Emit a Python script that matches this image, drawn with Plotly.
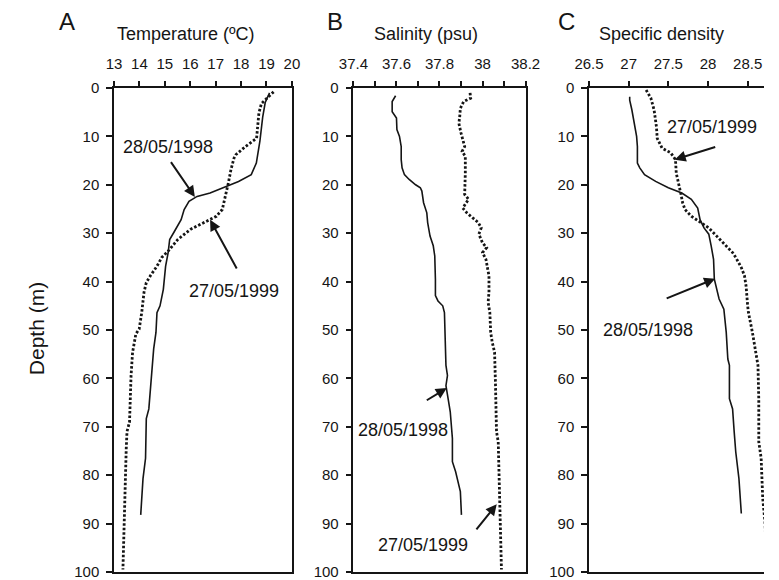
import plotly.graph_objects as go

# ---- Temperature profiles (°C) ----
temp_1998_depth = [1.0, 3.0, 6.0, 11.0, 15.5, 17.9, 19.3, 20.4, 21.7, 22.4, 23.4, 25.1, 27.2, 29.6,
                   31.3, 34.0, 36.8, 41.6, 45.0, 46.4, 50.5, 53.9, 59.4, 66.3, 68.3, 76.5, 80.7, 84.8, 88.2]
temp_1998 = [19.12, 18.95, 18.85, 18.74, 18.6, 18.4, 17.9, 17.41, 16.78, 16.27, 15.95, 15.76, 15.64, 15.38,
             15.19, 15.13, 15.03, 14.94, 14.81, 14.69, 14.65, 14.56, 14.47, 14.37, 14.27, 14.24, 14.14, 14.09, 14.05]

temp_1999_depth = [0.8, 3.2, 5.2, 8.6, 10.4, 12.1, 13.8, 14.5, 16.9, 19.6, 22.4, 25.1, 26.5, 27.8, 29.2,
                   31.3, 33.7, 35.0, 36.8, 38.8, 40.2, 42.2, 45.7, 46.4, 49.8, 50.8, 54.6, 59.4, 69.0,
                   71.0, 74.5, 84.8, 91.6, 99.5]
temp_1999 = [19.28, 18.8, 18.7, 18.65, 18.61, 18.17, 17.79, 17.72, 17.6, 17.5, 17.39, 17.26, 17.03, 16.52,
             16.01, 15.51, 15.13, 14.88, 14.69, 14.43, 14.27, 14.18, 14.11, 14.09, 13.99, 13.86, 13.73,
             13.67, 13.61, 13.51, 13.48, 13.42, 13.38, 13.35]

# ---- Salinity profiles (psu) ----
sal_1998_depth = [1.6, 2.8, 4.9, 6.2, 8.6, 10.0, 12.1, 14.8, 16.5, 17.9, 18.9, 20.0, 20.6, 21.3, 23.7,
                  25.8, 27.8, 30.6, 32.6, 34.7, 39.5, 42.9, 44.0, 45.0, 46.4, 57.3, 59.4, 61.5, 64.2,
                  66.9, 72.4, 77.2, 79.3, 81.3, 83.4, 88.2]
sal_1998 = [37.596, 37.58, 37.58, 37.6, 37.602, 37.614, 37.622, 37.622, 37.626, 37.637, 37.659, 37.689,
            37.711, 37.718, 37.726, 37.741, 37.745, 37.756, 37.771, 37.778, 37.781, 37.781, 37.793,
            37.815, 37.823, 37.83, 37.837, 37.83, 37.84, 37.85, 37.86, 37.86, 37.875, 37.886, 37.897, 37.902]

sal_1999_depth = [1.0, 2.1, 2.8, 4.2, 5.9, 7.3, 9.3, 11.0, 12.1, 13.1, 14.1, 17.6, 20.3, 22.0, 23.0, 24.8,
                  25.8, 26.8, 27.8, 28.9, 30.2, 32.0, 33.0, 34.0, 35.4, 37.4, 38.8, 42.2, 44.3, 46.4,
                  50.5, 52.5, 54.6, 60.8, 71.0, 73.1, 77.9, 83.4, 88.2, 99.5]
sal_1999 = [37.942, 37.945, 37.912, 37.897, 37.894, 37.89, 37.9, 37.912, 37.917, 37.905, 37.92, 37.92,
            37.92, 37.917, 37.935, 37.908, 37.927, 37.956, 37.98, 37.994, 37.983, 38.0, 38.019, 38.0,
            38.016, 38.024, 38.03, 38.03, 38.026, 38.034, 38.038, 38.045, 38.056, 38.06, 38.065,
            38.073, 38.076, 38.08, 38.083, 38.088]

# ---- Specific density profiles ----
dens_1998_depth = [1.8, 2.5, 4.5, 7.3, 10.0, 12.1, 15.5, 16.5, 17.9, 19.3, 20.6, 21.7, 23.0, 24.8, 27.2,
                   28.9, 30.2, 32.6, 35.4, 39.5, 40.9, 43.6, 45.7, 50.5, 56.0, 57.3, 64.2, 66.3, 71.0,
                   75.2, 80.7, 84.8, 87.9]
dens_1998 = [27.013, 27.013, 27.04, 27.07, 27.1, 27.11, 27.11, 27.14, 27.2, 27.34, 27.5, 27.67, 27.79,
             27.87, 27.9, 27.95, 28.01, 28.04, 28.07, 28.08, 28.1, 28.14, 28.2, 28.23, 28.25, 28.27,
             28.27, 28.31, 28.33, 28.35, 28.39, 28.41, 28.42]

dens_1999_depth = [0.4, 2.1, 4.5, 8.0, 10.4, 12.4, 13.4, 14.8, 17.6, 20.3, 22.0, 23.7, 25.1, 26.5, 27.8,
                   28.9, 30.6, 32.3, 34.0, 35.0, 37.1, 38.8, 40.9, 45.0, 46.4, 50.5, 54.6, 57.3, 64.2,
                   73.1, 76.5, 84.8, 90.0, 100.0]
dens_1999 = [27.22, 27.28, 27.32, 27.35, 27.36, 27.42, 27.53, 27.59, 27.6, 27.64, 27.66, 27.68, 27.71,
             27.79, 27.91, 28.01, 28.11, 28.21, 28.31, 28.35, 28.42, 28.46, 28.48, 28.5, 28.51, 28.56,
             28.6, 28.63, 28.64, 28.64, 28.67, 28.69, 28.72, 28.74]

# Panel headings and tick labels
panel_letters = ["A", "B", "C"]
panel_titles = ["Temperature (ºC)", "Salinity (psu)", "Specific density"]
temp_ticks = [13, 14, 15, 16, 17, 18, 19, 20]
sal_ticks = [37.4, 37.6, 37.8, 38, 38.2]
dens_ticks = [26.5, 27, 27.5, 28, 28.5]
depth_ticks = [0, 10, 20, 30, 40, 50, 60, 70, 80, 90, 100]

W, H = 779, 580
TOP, BOTTOM = 88, 574
PLOT_H = BOTTOM - TOP
FONT = "Liberation Sans, Arial, sans-serif"
INK = "#151515"

solid = dict(color=INK, width=1.6)
dotted = dict(color=INK, width=2.8, dash="2.5px,2px")

fig = go.Figure()
fig.add_trace(go.Scatter(x=temp_1998, y=temp_1998_depth, mode="lines", line=solid, xaxis="x", yaxis="y"))
fig.add_trace(go.Scatter(x=temp_1999, y=temp_1999_depth, mode="lines", line=dotted, xaxis="x", yaxis="y"))
fig.add_trace(go.Scatter(x=sal_1998, y=sal_1998_depth, mode="lines", line=solid, xaxis="x2", yaxis="y2"))
fig.add_trace(go.Scatter(x=sal_1999, y=sal_1999_depth, mode="lines", line=dotted, xaxis="x2", yaxis="y2"))
fig.add_trace(go.Scatter(x=dens_1998, y=dens_1998_depth, mode="lines", line=solid, xaxis="x3", yaxis="y3"))
fig.add_trace(go.Scatter(x=dens_1999, y=dens_1999_depth, mode="lines", line=dotted, xaxis="x3", yaxis="y3"))

# horizontal extents of the three panels (pixels)
domains_px = [(103, 288), (352, 531), (597, 779)]
domains = [(a / W, b / W) for a, b in domains_px]

tick_font = dict(family=FONT, size=15, color=INK)


def xaxis_cfg(dom, rng, ticks, anchor, minor_dtick=None):
    cfg = dict(domain=dom, range=rng, side="top", anchor=anchor, tickvals=ticks,
               ticktext=[f"{t:g}" for t in ticks], ticks="outside", ticklen=5, tickwidth=1.5,
               tickcolor=INK, showline=True, linecolor=INK, linewidth=1.5, mirror=True,
               showgrid=False, zeroline=False, tickfont=tick_font, fixedrange=True,
               ticklabelstandoff=6)
    if minor_dtick:
        cfg["minor"] = dict(dtick=minor_dtick, tick0=rng[0], ticks="outside", ticklen=5,
                            tickwidth=1.5, tickcolor=INK, showgrid=False)
    return cfg


def yaxis_cfg(anchor, mirror):
    return dict(domain=[0, 1], range=[100, 0], anchor=anchor, tickvals=depth_ticks, ticks="outside",
                ticklen=6, tickwidth=1.5, tickcolor=INK, showline=True, linecolor=INK, linewidth=1.5,
                mirror=mirror, showgrid=False, zeroline=False, tickfont=tick_font, fixedrange=True,
                ticklabeloverflow="allow", ticklabelstandoff=4)


fig.update_layout(
    width=W, height=H,
    margin=dict(l=0, r=0, t=TOP, b=H - BOTTOM),
    paper_bgcolor="white", plot_bgcolor="white",
    showlegend=False,
    font=dict(family=FONT, color=INK),
    xaxis=xaxis_cfg(domains[0], [13, 20], temp_ticks, "y"),
    xaxis2=xaxis_cfg(domains[1], [37.4, 38.2], sal_ticks, "y2", minor_dtick=0.1),
    xaxis3=xaxis_cfg(domains[2], [26.5, 28.706], dens_ticks, "y3"),
    yaxis=yaxis_cfg("x", True),
    yaxis2=yaxis_cfg("x2", True),
    yaxis3=yaxis_cfg("x3", False),
)


def paper_y(py):
    """Convert a pixel row to paper coordinates."""
    return 1 - (py - TOP) / PLOT_H


annotations = []

# panel letters and titles
letter_x = [54, 333, 574]
title_x = [178, 427, 672]
for i in range(3):
    annotations.append(dict(xref="paper", yref="paper", x=letter_x[i] / W, y=paper_y(21),
                            text=panel_letters[i], showarrow=False,
                            font=dict(size=24, family=FONT, color=INK),
                            xanchor="center", yanchor="middle"))
    annotations.append(dict(xref="paper", yref="paper", x=title_x[i] / W, y=paper_y(34),
                            text=panel_titles[i], showarrow=False,
                            font=dict(size=18, family=FONT, color=INK),
                            xanchor="center", yanchor="middle"))

# depth axis title
annotations.append(dict(xref="paper", yref="paper", x=22 / W, y=paper_y(330),
                        text="Depth (m)", textangle=-90, showarrow=False,
                        font=dict(size=21, family=FONT, color=INK), xanchor="center", yanchor="middle"))

label_font = dict(size=18, family=FONT, color=INK)


def date_label(xr, yr, x, y, text):
    annotations.append(dict(xref=xr, yref=yr, x=x, y=y, text=text, showarrow=False, font=label_font,
                            xanchor="center", yanchor="middle"))


def pointer(xr, yr, x, y, ax, ay):
    annotations.append(dict(xref=xr, yref=yr, x=x, y=y, ax=ax, ay=ay, axref=xr, ayref=yr, text="",
                            showarrow=True, arrowhead=2, arrowsize=1.1, arrowwidth=2, arrowcolor=INK))


# Temperature panel labels
date_label("x", "y", 15.13, 12.1, "28/05/1998")
pointer("x", "y", 16.18, 22.5, 15.2, 15.0)
date_label("x", "y", 17.73, 41.9, "27/05/1999")
pointer("x", "y", 16.78, 27.2, 17.86, 37.6)

# Salinity panel labels
date_label("x2", "y2", 37.629, 70.7, "28/05/1998")
pointer("x2", "y2", 37.834, 62.0, 37.734, 64.7)
date_label("x2", "y2", 37.725, 94.5, "27/05/1999")
pointer("x2", "y2", 38.066, 86.0, 37.966, 91.5)

# Density panel labels
date_label("x3", "y3", 28.05, 8.0, "27/05/1999")
pointer("x3", "y3", 27.58, 14.8, 28.11, 12.1)
date_label("x3", "y3", 27.24, 50.1, "28/05/1998")
pointer("x3", "y3", 28.09, 39.4, 27.46, 43.6)

fig.update_layout(annotations=annotations)

fig.write_html("out.html")
